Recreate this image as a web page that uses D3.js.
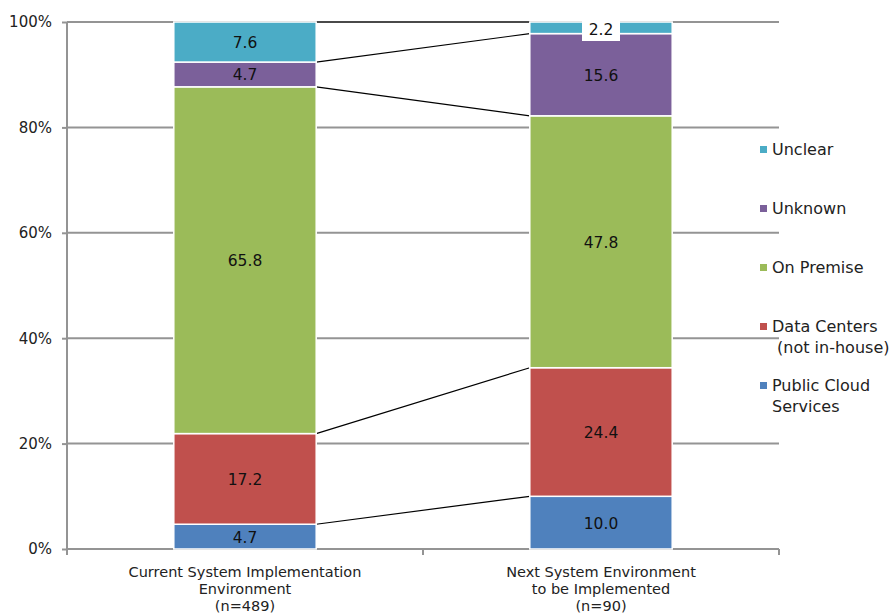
<!DOCTYPE html>
<html>
<head>
  <script src="https://d3js.org/d3.v7.min.js"></script>
  <style>
    body { margin: 0; background: #fff; }
    text { font-family: "Century Gothic", "DejaVu Sans", sans-serif; }
  </style>
</head>
<body>
<div id="chart"></div>
<script>
  // Data
  var categories = ["Current System Implementation|Environment|(n=489)", "Next System Environment|to be Implemented|(n=90)"];
  var seriesNames = ["Public Cloud Services", "Data Centers (not in-house)", "On Premise", "Unknown", "Unclear"];
  var legendLabels = [["Public Cloud", "Services"], ["Data Centers", " (not in-house)"], ["On Premise"], ["Unknown"], ["Unclear"]];
  var seriesColors = ["#4f81bd", "#c0504d", "#9bbb59", "#7b609a", "#4bacc6"];
  var publicCloud = [4.7, 10.0];
  var dataCenters = [17.2, 24.4];
  var onPremise = [65.8, 47.8];
  var unknown = [4.7, 15.6];
  var unclear = [7.6, 2.2];
  var yTicks = [0, 20, 40, 60, 80, 100];

  var values = [publicCloud, dataCenters, onPremise, unknown, unclear];

  var W = 891, H = 615;
  var plotL = 67, plotR = 779, plotT = 22, plotB = 549;

  var svg = d3.select("#chart").append("svg").attr("width", W).attr("height", H);

  var x = d3.scaleBand().domain(categories).range([plotL, plotR]).paddingInner(0.6).paddingOuter(0.3);
  var y = d3.scaleLinear().domain([0, 100]).range([plotB, plotT]);

  // table for stacking
  var table = categories.map(function(c, i) {
    var row = { cat: c };
    seriesNames.forEach(function(s, j) { row[s] = values[j][i]; });
    return row;
  });
  var stacked = d3.stack().keys(seriesNames)(table);

  // gridlines
  svg.append("g").selectAll("line").data(yTicks.slice(1)).join("line")
    .attr("x1", plotL).attr("x2", plotR)
    .attr("y1", function(d) { return y(d); }).attr("y2", function(d) { return y(d); })
    .attr("stroke", "#949494").attr("stroke-width", 2);

  // y axis
  var yAxis = svg.append("g").attr("transform", "translate(" + plotL + ",0)")
    .call(d3.axisLeft(y).tickValues(yTicks).tickFormat(function(d) { return d + "%"; }).tickSize(5).tickPadding(10));
  yAxis.selectAll("path, line").attr("stroke", "#949494").attr("stroke-width", 2);
  yAxis.select(".domain").attr("d", "M0," + (plotB + 1) + "V" + plotT);
  yAxis.selectAll("text").attr("font-size", 15).attr("fill", "#222");

  // x axis
  var xAxis = svg.append("g").attr("transform", "translate(0," + plotB + ")")
    .call(d3.axisBottom(x).tickSize(0).tickFormat(""));
  xAxis.select(".domain").attr("d", "M" + plotL + ",0H" + plotR).attr("stroke", "#949494").attr("stroke-width", 2);
  xAxis.selectAll(".xt").data([plotL, (plotL + plotR) / 2, plotR]).join("line")
    .attr("x1", function(d) { return d; }).attr("x2", function(d) { return d; })
    .attr("y1", 0).attr("y2", 6).attr("stroke", "#949494").attr("stroke-width", 2);

  var xl = svg.append("g").selectAll("text").data(categories).join("text")
    .attr("x", function(d) { return x(d) + x.bandwidth() / 2; })
    .attr("y", 577)
    .attr("text-anchor", "middle").attr("font-size", 14.5).attr("fill", "#222");
  xl.each(function(d) {
    var t = d3.select(this);
    d.split("|").forEach(function(line, i) {
      t.append("tspan").attr("x", x(d) + x.bandwidth() / 2).attr("dy", i === 0 ? 0 : 17).text(line);
    });
  });

  // connector lines between bars
  stacked.forEach(function(s) {
    svg.append("line")
      .attr("x1", x(categories[0]) + x.bandwidth()).attr("y1", y(s[0][1]))
      .attr("x2", x(categories[1])).attr("y2", y(s[1][1]))
      .attr("stroke", "#000").attr("stroke-width", 1.2);
  });

  // bars
  var groups = svg.append("g").selectAll("g").data(stacked).join("g")
    .attr("fill", function(d, i) { return seriesColors[i]; });
  groups.selectAll("rect").data(function(d) { return d; }).join("rect")
    .attr("x", function(d) { return x(d.data.cat); })
    .attr("y", function(d) { return y(d[1]); })
    .attr("width", x.bandwidth())
    .attr("height", function(d) { return y(d[0]) - y(d[1]); })
    .attr("stroke", "#fff").attr("stroke-width", 1.5);

  // value labels
  stacked.forEach(function(s, i) {
    s.forEach(function(d) {
      var v = d[1] - d[0];
      var cx = x(d.data.cat) + x.bandwidth() / 2;
      var cy = (y(d[0]) + y(d[1])) / 2 + 6;
      if (v < 3) {
        cy = y(d[1]) + 13;
        svg.append("rect").attr("x", cx - 19).attr("y", y(d[1]) - 2).attr("width", 38).attr("height", 21).attr("fill", "#fff");
      }
      svg.append("text").attr("x", cx).attr("y", cy).attr("text-anchor", "middle")
        .attr("font-size", 15.5).attr("fill", "#111").text(v.toFixed(1));
    });
  });

  // legend (top item = last series)
  var legendY = [386, 327, 268, 209, 150];
  var lg = svg.append("g").selectAll("g").data(seriesNames).join("g")
    .attr("transform", function(d, i) { return "translate(760," + legendY[i] + ")"; });
  lg.append("rect").attr("x", 0).attr("y", -4).attr("width", 7).attr("height", 7)
    .attr("fill", function(d, i) { return seriesColors[i]; });
  lg.append("text").attr("x", 12).attr("y", 5).attr("font-size", 16).attr("fill", "#222")
    .each(function(d, i) {
      var t = d3.select(this);
      legendLabels[i].forEach(function(line, k) {
        t.append("tspan").attr("x", 12).attr("dy", k === 0 ? 0 : 21).attr("xml:space", "preserve").text(line);
      });
    });
</script>
</body>
</html>
